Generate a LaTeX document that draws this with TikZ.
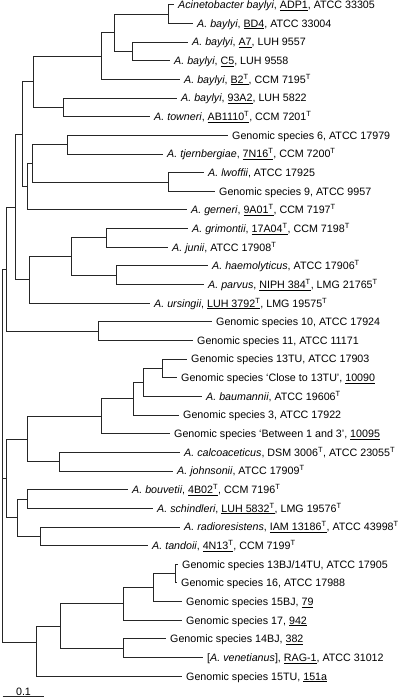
\documentclass[tikz,border=0pt]{standalone}
\usepackage{fontspec}
\setmainfont{Liberation Sans}
\newcommand{\Tsup}{\textsuperscript{T}}
\begin{document}
\begin{tikzpicture}[x=1pt,y=-1pt,
  branch/.style={line width=0.8pt, draw=black!85},
  lab/.style={anchor=base west, inner sep=0pt, xshift=4pt, yshift=-3.9pt, font=\fontsize{10.7}{12}\selectfont}]
\useasboundingbox (0,0) rectangle (400,699);
% tips
\coordinate (t1) at (174,4.7);
\coordinate (t2) at (193,23.35);
\coordinate (t3) at (188,42.0);
\coordinate (t4) at (170,60.65);
\coordinate (t5) at (180,79.3);
\coordinate (t6) at (177,97.95);
\coordinate (t7) at (150,116.6);
\coordinate (t8) at (228,135.25);
\coordinate (t9) at (163,153.9);
\coordinate (t10) at (204,172.55);
\coordinate (t11) at (215,191.2);
\coordinate (t12) at (187,209.85);
\coordinate (t13) at (188,228.5);
\coordinate (t14) at (168,247.15);
\coordinate (t15) at (208,265.8);
\coordinate (t16) at (204,284.45);
\coordinate (t17) at (150,303.1);
\coordinate (t18) at (212,321.75);
\coordinate (t19) at (193,340.4);
\coordinate (t20) at (187,359.05);
\coordinate (t21) at (177,377.7);
\coordinate (t22) at (202,396.35);
\coordinate (t23) at (179,415.0);
\coordinate (t24) at (170,433.65);
\coordinate (t25) at (180,452.3);
\coordinate (t26) at (173,470.95);
\coordinate (t27) at (128,489.6);
\coordinate (t28) at (153,508.25);
\coordinate (t29) at (180,526.9);
\coordinate (t30) at (148,545.55);
\coordinate (t31) at (178,564.2);
\coordinate (t32) at (177,582.85);
\coordinate (t33) at (182,601.5);
\coordinate (t34) at (182,620.15);
\coordinate (t35) at (166,638.8);
\coordinate (t36) at (203,657.45);
\coordinate (t37) at (182,676.1);
% labels
\node[lab] (n1) at (t1) {\textit{Acinetobacter baylyi}, \underline{ADP1}, ATCC 33305};
\node[lab] (n2) at (t2) {\textit{A. baylyi}, \underline{BD4}, ATCC 33004};
\node[lab] (n3) at (t3) {\textit{A. baylyi}, \underline{A7}, LUH 9557};
\node[lab] (n4) at (t4) {\textit{A. baylyi}, \underline{C5}, LUH 9558};
\node[lab] (n5) at (t5) {\textit{A. baylyi}, \underline{B2\Tsup}, CCM 7195\Tsup};
\node[lab] (n6) at (t6) {\textit{A. baylyi}, \underline{93A2}, LUH 5822};
\node[lab] (n7) at (t7) {\textit{A. towneri}, \underline{AB1110\Tsup}, CCM 7201\Tsup};
\node[lab] (n8) at (t8) {Genomic species 6, ATCC 17979};
\node[lab] (n9) at (t9) {\textit{A. tjernbergiae}, \underline{7N16\Tsup}, CCM 7200\Tsup};
\node[lab] (n10) at (t10) {\textit{A. lwoffii}, ATCC 17925};
\node[lab] (n11) at (t11) {Genomic species 9, ATCC 9957};
\node[lab] (n12) at (t12) {\textit{A. gerneri}, \underline{9A01\Tsup}, CCM 7197\Tsup};
\node[lab] (n13) at (t13) {\textit{A. grimontii}, \underline{17A04\Tsup}, CCM 7198\Tsup};
\node[lab] (n14) at (t14) {\textit{A. junii}, ATCC 17908\Tsup};
\node[lab] (n15) at (t15) {\textit{A. haemolyticus}, ATCC 17906\Tsup};
\node[lab] (n16) at (t16) {\textit{A. parvus}, \underline{NIPH 384\Tsup}, LMG 21765\Tsup};
\node[lab] (n17) at (t17) {\textit{A. ursingii}, \underline{LUH 3792\Tsup}, LMG 19575\Tsup};
\node[lab] (n18) at (t18) {Genomic species 10, ATCC 17924};
\node[lab] (n19) at (t19) {Genomic species 11, ATCC 11171};
\node[lab] (n20) at (t20) {Genomic species 13TU, ATCC 17903};
\node[lab] (n21) at (t21) {Genomic species ‘Close to 13TU’, \underline{10090}};
\node[lab] (n22) at (t22) {\textit{A. baumannii}, ATCC 19606\Tsup};
\node[lab] (n23) at (t23) {Genomic species 3, ATCC 17922};
\node[lab] (n24) at (t24) {Genomic species ‘Between 1 and 3’, \underline{10095}};
\node[lab] (n25) at (t25) {\textit{A. calcoaceticus}, DSM 3006\Tsup, ATCC 23055\Tsup};
\node[lab] (n26) at (t26) {\textit{A. johnsonii}, ATCC 17909\Tsup};
\node[lab] (n27) at (t27) {\textit{A. bouvetii}, \underline{4B02\Tsup}, CCM 7196\Tsup};
\node[lab] (n28) at (t28) {\textit{A. schindleri}, \underline{LUH 5832\Tsup}, LMG 19576\Tsup};
\node[lab] (n29) at (t29) {\textit{A. radioresistens}, \underline{IAM 13186\Tsup}, ATCC 43998\Tsup};
\node[lab] (n30) at (t30) {\textit{A. tandoii}, \underline{4N13\Tsup}, CCM 7199\Tsup};
\node[lab] (n31) at (t31) {Genomic species 13BJ/14TU, ATCC 17905};
\node[lab] (n32) at (t32) {Genomic species 16, ATCC 17988};
\node[lab] (n33) at (t33) {Genomic species 15BJ, \underline{79}};
\node[lab] (n34) at (t34) {Genomic species 17, \underline{942}};
\node[lab] (n35) at (t35) {Genomic species 14BJ, \underline{382}};
\node[lab] (n36) at (t36) {[\textit{A. venetianus}], \underline{RAG-1}, ATCC 31012};
\node[lab] (n37) at (t37) {Genomic species 15TU, \underline{151a}};
% internal nodes
\coordinate (A) at (168,14.03);
\coordinate (B) at (132,51.3);
\coordinate (C) at (114,32.7);
\coordinate (D) at (101,56.0);
\coordinate (E) at (63,107.3);
\coordinate (F) at (33,81.6);
\coordinate (G) at (67,144.6);
\coordinate (H) at (168,181.9);
\coordinate (I) at (32,163.2);
\coordinate (K) at (27,186.5);
\coordinate (J) at (22,134.1);
\coordinate (Q) at (106,237.8);
\coordinate (R) at (116,275.1);
\coordinate (P) at (71,256.5);
\coordinate (M) at (29,279.8);
\coordinate (L) at (15,207.0);
\coordinate (O) at (98,331.1);
\coordinate (N) at (6.7,269.0);
\coordinate (S6) at (162,368.4);
\coordinate (S5) at (143,382.4);
\coordinate (S4) at (133,398.7);
\coordinate (S2) at (101,416.2);
\coordinate (S3) at (59,461.6);
\coordinate (S1) at (27,438.9);
\coordinate (T1) at (27,498.9);
\coordinate (T2) at (40,536.2);
\coordinate (T) at (17,517.6);
\coordinate (U) at (6.5,478.2);
\coordinate (AA) at (175,573.5);
\coordinate (Z) at (153,587.5);
\coordinate (X) at (123,603.8);
\coordinate (Y) at (123,648.1);
\coordinate (W) at (60,626.0);
\coordinate (V) at (36,642.0);
\coordinate (R0) at (2.7,478.0);
% branches
\draw[branch] (A) |- (t1) (A) |- (t2);
\draw[branch] (B) |- (t3) (B) |- (t4);
\draw[branch] (C) |- (A) (C) |- (B);
\draw[branch] (D) |- (C) (D) |- (t5);
\draw[branch] (E) |- (t6) (E) |- (t7);
\draw[branch] (F) |- (D) (F) |- (E);
\draw[branch] (G) |- (t8) (G) |- (t9);
\draw[branch] (H) |- (t10) (H) |- (t11);
\draw[branch] (I) |- (G) (I) |- (H);
\draw[branch] (K) |- (I) (K) |- (t12);
\draw[branch] (J) |- (F) (J) |- (K);
\draw[branch] (Q) |- (t13) (Q) |- (t14);
\draw[branch] (R) |- (t15) (R) |- (t16);
\draw[branch] (P) |- (Q) (P) |- (R);
\draw[branch] (M) |- (P) (M) |- (t17);
\draw[branch] (L) |- (J) (L) |- (M);
\draw[branch] (O) |- (t18) (O) |- (t19);
\draw[branch] (N) |- (L) (N) |- (O);
\draw[branch] (S6) |- (t20) (S6) |- (t21);
\draw[branch] (S5) |- (S6) (S5) |- (t22);
\draw[branch] (S4) |- (S5) (S4) |- (t23);
\draw[branch] (S2) |- (S4) (S2) |- (t24);
\draw[branch] (S3) |- (t25) (S3) |- (t26);
\draw[branch] (S1) |- (S2) (S1) |- (S3);
\draw[branch] (T1) |- (t27) (T1) |- (t28);
\draw[branch] (T2) |- (t29) (T2) |- (t30);
\draw[branch] (T) |- (T1) (T) |- (T2);
\draw[branch] (U) |- (S1) (U) |- (T);
\draw[branch] (AA) |- (t31) (AA) |- (t32);
\draw[branch] (Z) |- (AA) (Z) |- (t33);
\draw[branch] (X) |- (Z) (X) |- (t34);
\draw[branch] (Y) |- (t35) (Y) |- (t36);
\draw[branch] (W) |- (X) (W) |- (Y);
\draw[branch] (V) |- (W) (V) |- (t37);
\draw[branch] (R0) |- (N) (R0) |- (U) (R0) |- (V);
% scale bar
\coordinate (sb1) at (2.7,696.5);
\coordinate (sb2) at (44.3,696.5);
\draw[branch] (sb1) -- (sb2) node[midway, above, inner sep=0.8pt, font=\fontsize{10.7}{12}\selectfont] (sbl) {0.1};
\end{tikzpicture}
\end{document}
